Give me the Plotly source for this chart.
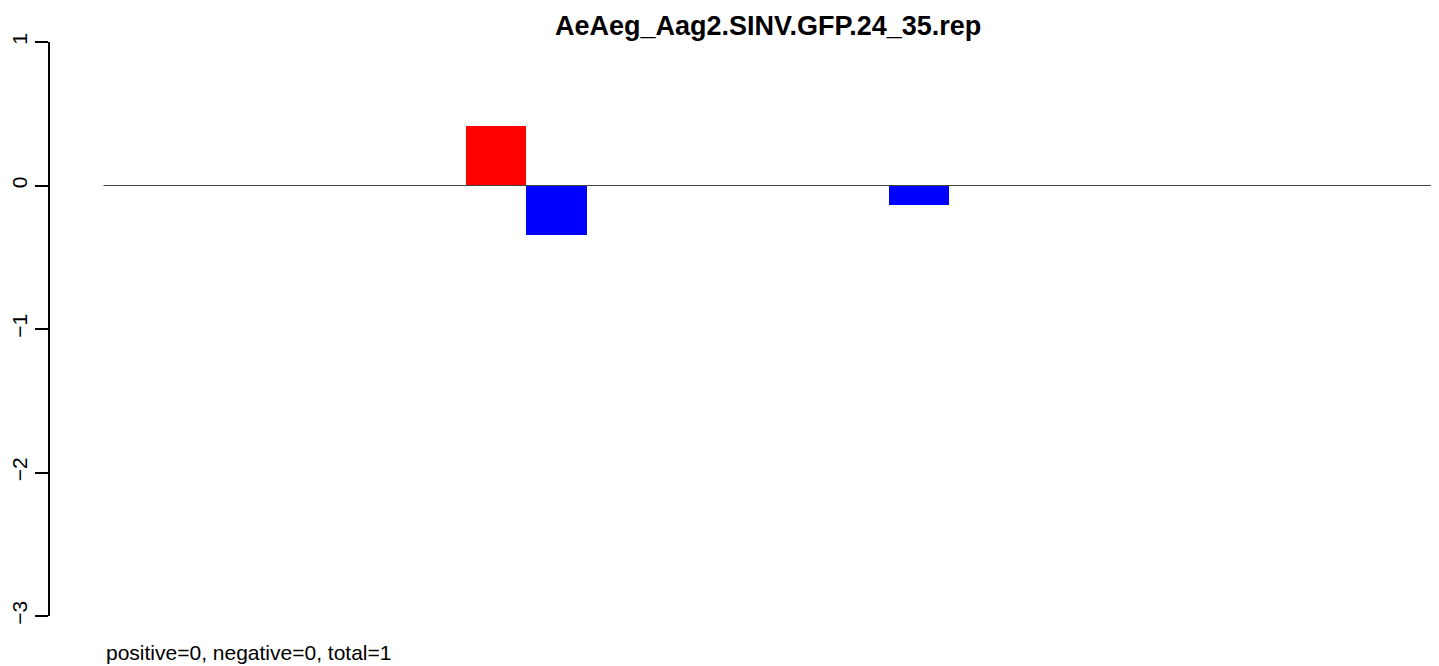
import plotly.graph_objects as go

# ---- data ----
title_text = "AeAeg_Aag2.SINV.GFP.24_35.rep"
footer_text = "positive=0, negative=0, total=1"
categories = [1, 2, 3, 4, 5, 6, 7, 8, 9, 10, 11]
positive = [0, 0, 0, 0.415, 0, 0, 0, 0, 0, 0, 0]
negative = [0, 0, 0, -0.345, 0, 0, -0.134, 0, 0, 0, 0]
tick_values = [-3, -2, -1, 0, 1]
tick_labels = ["\u22123", "\u22122", "\u22121", "0", "1"]

FONT = "Liberation Sans, Arial, Helvetica, sans-serif"

# page has an 8px body margin, so the figure is drawn 8px smaller
W, H = 1431, 658
L, T, R, B = 42, 34, 7, 50
PW, PH = W - L - R, H - T - B

# each category is a pair of adjacent unit-wide bars (positive then negative)
x_pos = [2 * i + 0.5 for i in range(len(categories))]
x_neg = [2 * i + 1.5 for i in range(len(categories))]
n_units = 2 * len(categories)

fig = go.Figure()
fig.add_trace(go.Bar(x=x_pos, y=positive, width=1, marker=dict(color="#FF0000", line=dict(width=0)),
                     showlegend=False, hoverinfo="y"))
fig.add_trace(go.Bar(x=x_neg, y=negative, width=1, marker=dict(color="#0000FF", line=dict(width=0)),
                     showlegend=False, hoverinfo="y"))

# horizontal zero line across the bar span
fig.add_shape(type="line", x0=0, x1=n_units, y0=0, y1=0, xref="x", yref="y",
              line=dict(color="#444444", width=1), layer="above")

fig.update_layout(
    width=W, height=H,
    margin=dict(l=L, r=R, t=T, b=B, autoexpand=False),
    paper_bgcolor="white", plot_bgcolor="white",
    font=dict(family=FONT, color="black", size=21),
    bargap=0, barmode="overlay",
    xaxis=dict(visible=False, range=[-0.886, n_units], showgrid=False, zeroline=False),
    yaxis=dict(range=[-3, 1], tickvals=tick_values, ticktext=tick_labels, automargin=False,
               showgrid=False, zeroline=False, showline=True, linecolor="black", linewidth=1.6,
               ticks="outside", ticklen=13, tickwidth=1.6, tickcolor="black",
               tickangle=-90, ticklabelstandoff=0,
               tickfont=dict(family=FONT, size=21, color="black")),
)

fig.add_annotation(text="<b>" + title_text + "</b>", xref="paper", yref="paper",
                   x=(760 - L) / PW, y=1 + (T - 18) / PH,
                   xanchor="center", yanchor="middle", showarrow=False,
                   font=dict(family=FONT, size=27, color="black"))
fig.add_annotation(text=footer_text, xref="paper", yref="paper",
                   x=(96 - L) / PW, y=-(644 - (H - B)) / PH,
                   xanchor="left", yanchor="middle", showarrow=False,
                   font=dict(family=FONT, size=21, color="black"))

fig.write_html("out.html")
